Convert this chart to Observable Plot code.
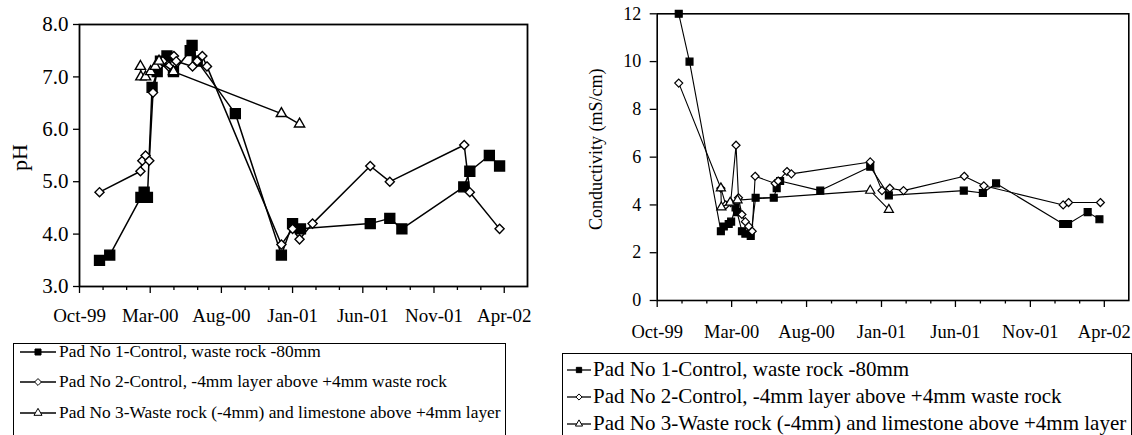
<!DOCTYPE html>
<html><head><meta charset="utf-8">
<script src="https://cdn.jsdelivr.net/npm/d3@7"></script>
<script src="https://cdn.jsdelivr.net/npm/@observablehq/plot@0.6"></script>
<style>
body{margin:0;background:#fff;}
#root{position:relative;width:1132px;height:435px;overflow:hidden;background:#fff;font-family:"Liberation Serif","Times New Roman",serif;color:#000;}
.chart{position:absolute;top:0;}
.legend{position:absolute;border:1.3px solid #000;background:#fff;box-sizing:border-box;}
.row{position:absolute;left:0;height:0;white-space:nowrap;}
.row svg{position:absolute;top:-8px;}
.row span{position:absolute;top:0;transform:translateY(-52%);line-height:1;}
</style></head><body><div id="root"></div>
<script>
// ---------- data ----------
const seriesNames = [
  "Pad No 1-Control, waste rock -80mm",
  "Pad No 2-Control, -4mm layer above +4mm waste rock",
  "Pad No 3-Waste rock (-4mm) and limestone above +4mm layer"
];
const majorTickDates = ["1999-10-01","2000-03-01","2000-08-01","2001-01-01","2001-06-01","2001-11-01","2002-04-01"];
const majorTickLabels = ["Oct-99","Mar-00","Aug-00","Jan-01","Jun-01","Nov-01","Apr-02"];
const xDomainDates = ["1999-10-01","2002-05-21"];

const phTicks = [3,4,5,6,7,8];
const condTicks = [0,2,4,6,8,10,12];

const phPad1Dates = ["1999-11-13","1999-12-05","2000-02-10","2000-02-17","2000-02-24","2000-03-05","2000-03-16","2000-03-23","2000-04-06","2000-04-20","2000-05-26","2000-05-30","2000-06-10","2000-08-31","2000-12-08","2001-01-01","2001-01-18","2001-06-17","2001-07-29","2001-08-24","2002-01-04","2002-01-17","2002-02-28","2002-03-22"];
const phPad1Values = [3.5,3.6,4.7,4.8,4.7,6.8,7.1,7.3,7.4,7.1,7.5,7.6,7.3,6.3,3.6,4.2,4.1,4.2,4.3,4.1,4.9,5.2,5.5,5.3];

const phPad2Dates = ["1999-11-13","2000-02-09","2000-02-13","2000-02-20","2000-02-28","2000-03-07","2000-03-18","2000-03-28","2000-04-10","2000-04-21","2000-04-26","2000-05-31","2000-06-10","2000-06-21","2000-07-01","2000-12-08","2001-01-01","2001-01-16","2001-02-13","2001-06-17","2001-07-29","2002-01-05","2002-01-17","2002-03-22"];
const phPad2Values = [4.8,5.2,5.4,5.5,5.4,6.7,7.2,7.3,7.2,7.4,7.3,7.2,7.3,7.4,7.2,3.8,4.1,3.9,4.2,5.3,5.0,5.7,4.8,4.1];

const phPad3Dates = ["2000-02-09","2000-02-10","2000-02-20","2000-03-02","2000-03-12","2000-03-20","2000-04-20","2000-12-08","2001-01-16"];
const phPad3Values = [7.2,7.0,7.0,7.1,7.2,7.3,7.1,6.3,6.1];

const condPad1Dates = ["1999-11-14","1999-12-06","2000-02-08","2000-02-14","2000-02-24","2000-02-29","2000-03-09","2000-03-12","2000-03-22","2000-03-29","2000-04-09","2000-04-19","2000-05-26","2000-06-01","2000-06-08","2000-08-29","2000-12-09","2001-01-16","2001-06-18","2001-07-27","2001-08-23","2002-01-07","2002-01-17","2002-02-26","2002-03-22"];
const condPad1Values = [12.0,10.0,2.9,3.1,3.2,3.3,3.9,3.7,2.9,2.8,2.7,4.3,4.3,4.7,5.0,4.6,5.6,4.4,4.6,4.5,4.9,3.2,3.2,3.7,3.4];

const condPad2Dates = ["1999-11-14","2000-02-08","2000-02-18","2000-02-28","2000-03-10","2000-03-15","2000-03-22","2000-03-29","2000-04-05","2000-04-12","2000-04-18","2000-05-29","2000-06-04","2000-06-22","2000-07-01","2000-12-09","2001-01-02","2001-01-18","2001-02-15","2001-06-19","2001-07-29","2002-01-07","2002-01-18","2002-03-24"];
const condPad2Values = [9.1,4.7,4.0,4.1,6.5,4.3,3.6,3.3,3.1,2.9,5.2,4.9,5.0,5.4,5.3,5.8,4.6,4.7,4.6,5.2,4.8,4.0,4.1,4.1];

const condPad3Dates = ["2000-02-08","2000-02-09","2000-02-27","2000-03-13","2000-12-09","2001-01-16"];
const condPad3Values = [4.7,3.9,4.1,4.2,4.6,3.8];

// ---------- helpers ----------
const FONT = '"Liberation Serif","Times New Roman",serif';
const toRows = (dates, values) => dates.map((d, i) => ({date: new Date(d), value: values[i]}));
const majorTicks = majorTickDates.map(d => new Date(d));
const minorTicks = [];
for (let i = 0; i < majorTicks.length - 1; i++) {
  const a = +majorTicks[i], b = +majorTicks[i + 1];
  minorTicks.push(new Date(a + (b - a) / 3), new Date(a + 2 * (b - a) / 3));
}
const xDomain = xDomainDates.map(d => new Date(d));

const markerStyles = [
  {symbol: "square", fill: "#000"},
  {symbol: "diamond2", fill: "#fff"},
  {symbol: "triangle", fill: "#fff"}
];

function chart(cfg) {
  const marks = [
    Plot.axisX({ticks: minorTicks, tickSize: cfg.minorTick, fill: "none", tickFormat: () => "", label: null, stroke: "#000", strokeWidth: 1.3}),
    Plot.axisX({ticks: majorTicks, tickSize: cfg.majorTick, tickPadding: cfg.xPad, tickFormat: (d, i) => majorTickLabels[i], label: null, fontSize: cfg.tickFont, stroke: "#000", strokeWidth: 1.3}),
    Plot.axisY({ticks: cfg.yTicks, tickSize: cfg.yTick, tickPadding: cfg.yPad, tickFormat: cfg.yFormat, label: null, fontSize: cfg.yFont, stroke: "#000", strokeWidth: 1.3}),
    Plot.frame({stroke: "#000", strokeWidth: cfg.frameWidth}),
    Plot.text([cfg.yLabel], {frameAnchor: "left", text: d => d, rotate: -90, textAnchor: "middle", lineAnchor: "middle", dx: cfg.labelDx, dy: cfg.labelDy, fontSize: cfg.labelFont})
  ];
  cfg.series.forEach((rows, i) => {
    const m = markerStyles[i];
    marks.push(Plot.line(rows, {x: "date", y: "value", stroke: "#000", strokeWidth: cfg.lineWidth}));
    marks.push(Plot.dot(rows, {x: "date", y: "value", symbol: m.symbol, r: cfg.sizes[i], fill: m.fill, stroke: "#000", strokeWidth: cfg.dotStroke}));
  });
  return Plot.plot({
    width: cfg.width, height: cfg.height,
    marginLeft: cfg.ml, marginRight: cfg.mr, marginTop: cfg.mt, marginBottom: cfg.mb,
    style: {fontFamily: FONT, fontSize: cfg.tickFont + "px", color: "#000", background: "#fff", overflow: "visible"},
    x: {type: "utc", domain: xDomain},
    y: {domain: cfg.yDomain},
    marks
  });
}

const root = document.getElementById("root");

const left = chart({
  width: 560, height: 340, ml: 79, mr: 33, mt: 24, mb: 54,
  yDomain: [3, 8], yTicks: phTicks, yFormat: d3.format(".1f"), yLabel: "pH",
  tickFont: 19, yFont: 21, labelFont: 22, labelDx: -60, labelDy: 2,
  minorTick: 4, majorTick: 7, xPad: 15, yTick: 6, yPad: 5,
  frameWidth: 1.8, lineWidth: 1.5, dotStroke: 1.4, sizes: [5.6, 4.1, 3.8],
  series: [toRows(phPad1Dates, phPad1Values), toRows(phPad2Dates, phPad2Values), toRows(phPad3Dates, phPad3Values)]
});
left.classList.add("chart"); left.style.left = "0px";
root.appendChild(left);

const right = chart({
  width: 572, height: 345, ml: 96.7, mr: 3.7, mt: 13.3, mb: 45,
  yDomain: [0, 12], yTicks: condTicks, yFormat: d3.format("d"), yLabel: "Conductivity (mS/cm)",
  tickFont: 18.5, yFont: 18, labelFont: 18, labelDx: -61, labelDy: -8,
  minorTick: 3.5, majorTick: 7, xPad: 17, yTick: 7, yPad: 9,
  frameWidth: 1.6, lineWidth: 1.1, dotStroke: 1.2, sizes: [3.9, 3.6, 3.4],
  series: [toRows(condPad1Dates, condPad1Values), toRows(condPad2Dates, condPad2Values), toRows(condPad3Dates, condPad3Values)]
});
right.classList.add("chart"); right.style.left = "560px";
root.appendChild(right);

// ---------- legends ----------
function legend(cfg) {
  const box = document.createElement("div");
  box.className = "legend";
  Object.assign(box.style, {left: cfg.x + "px", top: cfg.y + "px", width: cfg.w + "px", height: cfg.h + "px"});
  seriesNames.forEach((name, i) => {
    const row = document.createElement("div");
    row.className = "row";
    row.style.top = cfg.rows[i] + "px";
    const svg = d3.create("svg").attr("width", cfg.lineEnd + 2).attr("height", 16).style("left", "0px");
    svg.append("line").attr("x1", cfg.lineStart).attr("x2", cfg.lineEnd).attr("y1", 8).attr("y2", 8).attr("stroke", "#000").attr("stroke-width", 1.3);
    const m = markerStyles[i];
    const symType = {square: d3.symbolSquare, diamond2: d3.symbolDiamond2, triangle: d3.symbolTriangle}[m.symbol];
    svg.append("path").attr("d", d3.symbol(symType, cfg.symSize[i])()).attr("transform", `translate(${(cfg.lineStart + cfg.lineEnd) / 2},8)`)
      .attr("fill", m.fill).attr("stroke", "#000").attr("stroke-width", 1);
    row.appendChild(svg.node());
    const span = document.createElement("span");
    span.textContent = name;
    span.style.left = cfg.textX + "px";
    span.style.fontSize = cfg.font + "px";
    row.appendChild(span);
    box.appendChild(row);
  });
  root.appendChild(box);
}
legend({x: 13, y: 343, w: 493, h: 120, rows: [8, 38, 68.5], lineStart: 6, lineEnd: 42, textX: 45, font: 17.4, symSize: [36, 30, 28]});
legend({x: 562, y: 353, w: 570, h: 120, rows: [16, 43, 70], lineStart: 4, lineEnd: 28, textX: 30, font: 21, symSize: [28, 24, 22]});
</script></body></html>
